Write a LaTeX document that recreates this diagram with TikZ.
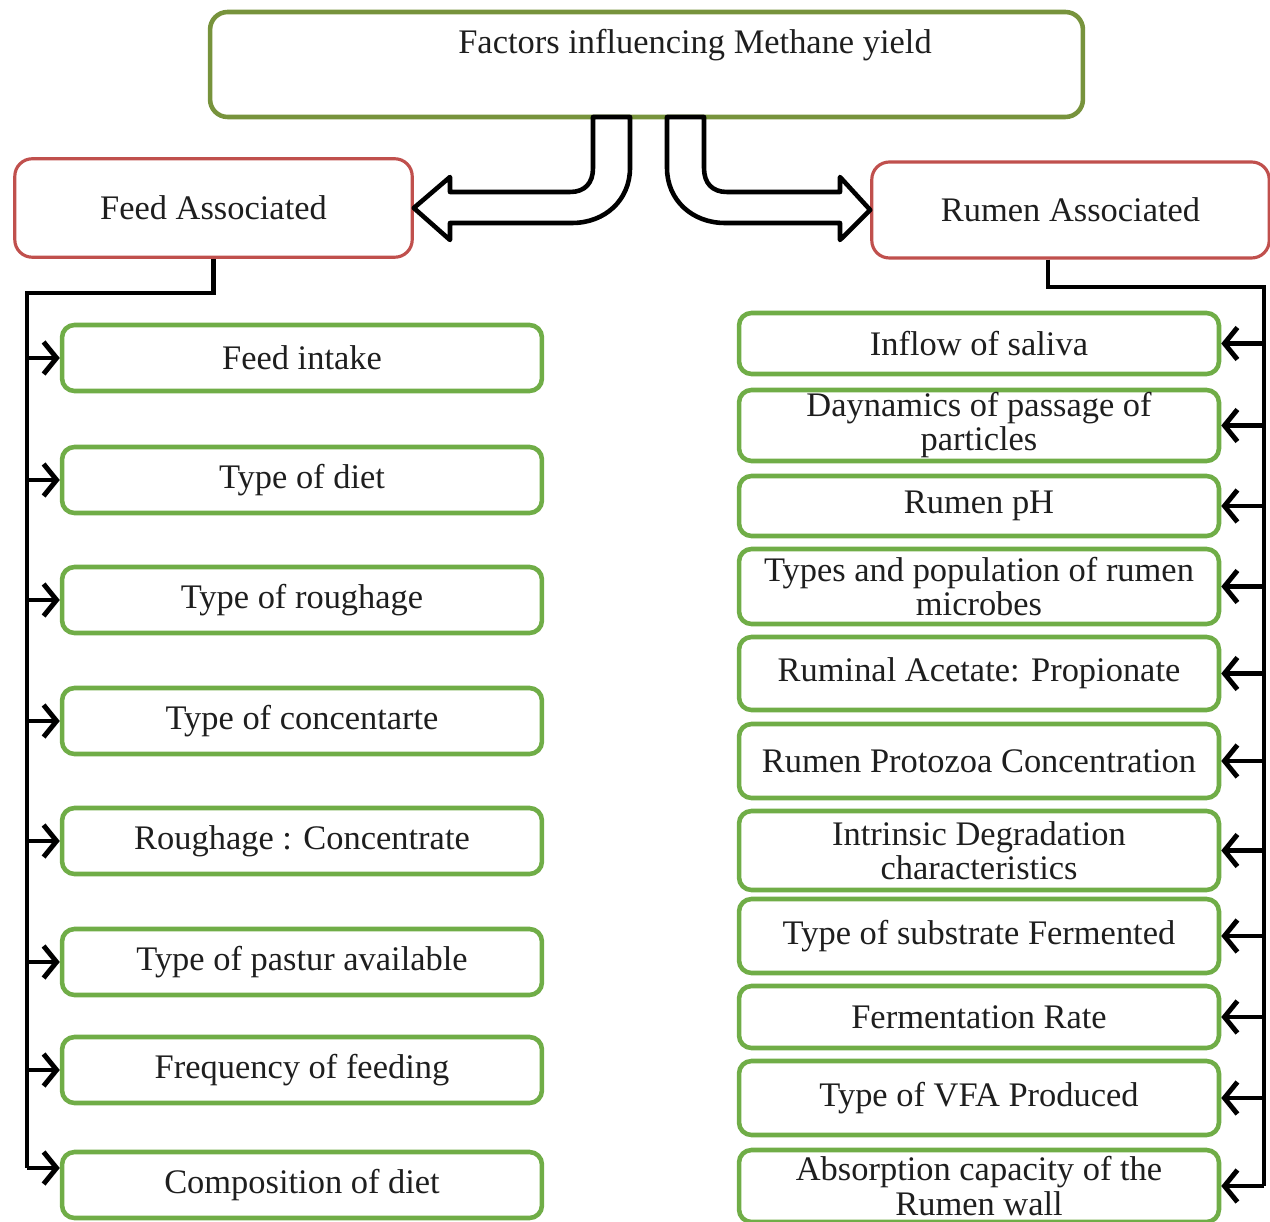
\documentclass[tikz,border=0pt]{standalone}
\usepackage{fontspec}
\setmainfont{Liberation Serif}
\usetikzlibrary{arrows.meta, calc}

\definecolor{boxgreen}{RGB}{112,173,71}
\definecolor{topgreen}{RGB}{119,147,60}
\definecolor{boxred}{RGB}{192,80,77}
\definecolor{inktext}{RGB}{30,30,30}

\begin{document}
\begin{tikzpicture}[
    x=0.02cm, y=-0.02cm,
    every node/.style={font=\fontsize{19.6}{19.4}\selectfont, text=inktext},
    factor/.style={draw=boxgreen, line width=2.6pt, rounded corners=0.25cm, minimum width=9.6cm, minimum height=1.32cm, align=center, inner sep=0pt},
    group/.style={draw=boxred, line width=1.8pt, rounded corners=0.35cm, minimum width=7.95cm, minimum height=1.97cm},
    bus/.style={line width=2.3pt, black},
    feeds/.style={bus, -{Straight Barb[length=2.6mm, width=6.4mm, line width=2.8pt]}},
    hollow/.style={line width=2.6pt, black, fill=white, line join=round}
]
    \useasboundingbox (0,0) rectangle (1270,1222);

    % Top box
    \node[draw=topgreen, line width=2.6pt, rounded corners=0.35cm, minimum width=17.46cm, minimum height=2.1cm] (top) at (646.5,64.5) {};
    \node (title) at (695,45) {Factors influencing Methane yield};

    % Two groups
    \node[group] (feed) at (213.5,208) {Feed Associated};
    \node[group, minimum height=1.92cm] (rumen) at (1070.5,210) {Rumen Associated};

    % Hollow bent arrows
    \draw[hollow] (630,117) -- (630,168) .. controls (630,200) and (605,223) .. (572,223) -- (450,223) -- (450,240) -- (feed.east) -- (450,177) -- (450,192) -- (570,192) .. controls (585,192) and (593,183) .. (593,168) -- (593,117) -- cycle;
    \draw[hollow] (667,117) -- (667,168) .. controls (667,200) and (692,223) .. (725,223) -- (840,223) -- (840,240) -- (rumen.west) -- (840,177) -- (840,192) -- (727,192) .. controls (712,192) and (704,183) .. (704,168) -- (704,117) -- cycle;

    % Feed associated factors
    \node[factor] (intake) at (302,358) {Feed intake};
    \node[factor] (diet) at (302,480) {Type of diet};
    \node[factor] (rough) at (302,600) {Type of roughage};
    \node[factor] (conc) at (302,721) {Type of concentarte};
    \node[factor] (ratio) at (302,841) {Roughage : Concentrate};
    \node[factor] (pastur) at (302,962) {Type of pastur available};
    \node[factor] (freq) at (302,1070) {Frequency of feeding};
    \node[factor] (comp) at (302,1185) {Composition of diet};

    % Rumen associated factors
    \node[factor, minimum height=1.22cm] (saliva) at (979,343.5) {Inflow of saliva};
    \node[factor, minimum height=1.42cm] (passage) at (979,425.5) {Daynamics of passage of\\particles};
    \node[factor, minimum height=1.2cm] (ph) at (979,506) {Rumen pH};
    \node[factor, minimum height=1.5cm] (microbes) at (979,586.5) {Types and population of rumen\\microbes};
    \node[factor, minimum height=1.46cm] (acetate) at (979,673.5) {Ruminal Acetate: Propionate};
    \node[factor, minimum height=1.48cm] (protozoa) at (979,761) {Rumen Protozoa Concentration};
    \node[factor, minimum height=1.58cm] (degrad) at (979,850.5) {Intrinsic Degradation\\characteristics};
    \node[factor, minimum height=1.48cm] (substrate) at (979,936) {Type of substrate Fermented};
    \node[factor, minimum height=1.24cm] (fermrate) at (979,1017) {Fermentation Rate};
    \node[factor, minimum height=1.48cm] (vfa) at (979,1098) {Type of VFA Produced};
    \node[factor, minimum height=1.44cm] (absorb) at (979,1186) {Absorption capacity of the\\Rumen wall};

    % Left bus
    \coordinate (lbus) at (27,293);
    \coordinate (compin) at ([yshift=0.34cm]comp.west);
    \draw[bus] (feed.south) |- (lbus) -- (lbus |- compin);
    \draw[feeds] (lbus |- intake.west) -- (intake.west);
    \draw[feeds] (lbus |- diet.west) -- (diet.west);
    \draw[feeds] (lbus |- rough.west) -- (rough.west);
    \draw[feeds] (lbus |- conc.west) -- (conc.west);
    \draw[feeds] (lbus |- ratio.west) -- (ratio.west);
    \draw[feeds] (lbus |- pastur.west) -- (pastur.west);
    \draw[feeds] (lbus |- freq.west) -- (freq.west);
    \draw[feeds] (lbus |- compin) -- (compin);

    % Right bus
    \coordinate (rbus) at (1264,287);
    \draw[bus] ([xshift=-0.45cm]rumen.south) |- (rbus) -- (rbus |- absorb.east);
    \draw[feeds] (rbus |- saliva.east) -- (saliva.east);
    \draw[feeds] (rbus |- passage.east) -- (passage.east);
    \draw[feeds] (rbus |- ph.east) -- (ph.east);
    \draw[feeds] (rbus |- microbes.east) -- (microbes.east);
    \draw[feeds] (rbus |- acetate.east) -- (acetate.east);
    \draw[feeds] (rbus |- protozoa.east) -- (protozoa.east);
    \draw[feeds] (rbus |- degrad.east) -- (degrad.east);
    \draw[feeds] (rbus |- substrate.east) -- (substrate.east);
    \draw[feeds] (rbus |- fermrate.east) -- (fermrate.east);
    \draw[feeds] (rbus |- vfa.east) -- (vfa.east);
    \draw[feeds] (rbus |- absorb.east) -- (absorb.east);
\end{tikzpicture}
\end{document}
